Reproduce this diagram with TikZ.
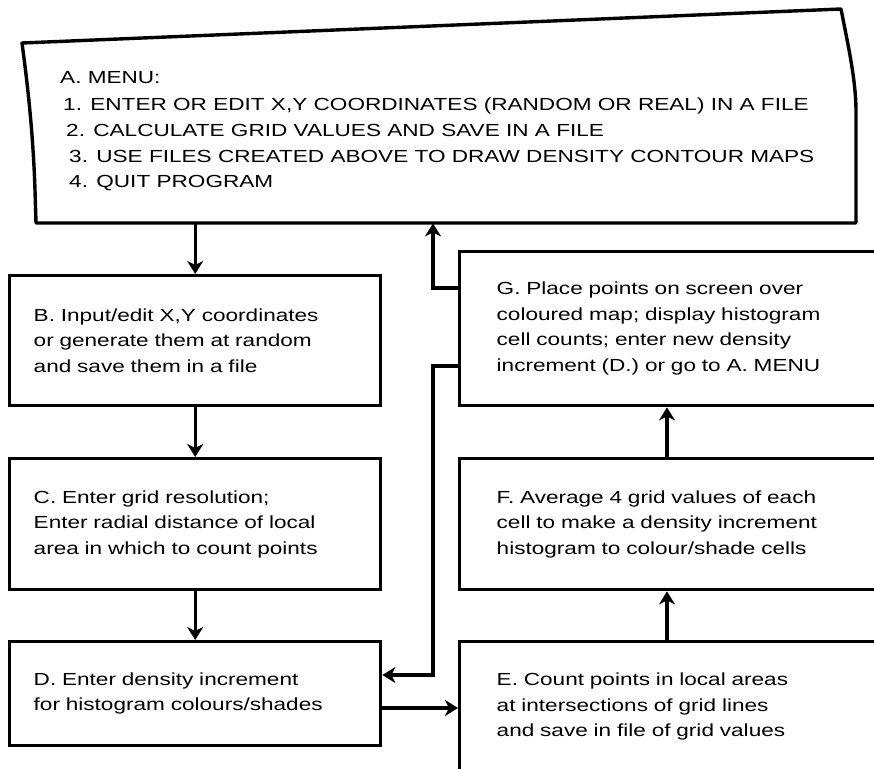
\documentclass[tikz,border=0pt]{standalone}
\usepackage{fontspec}
\setmainfont{Liberation Sans}[FakeStretch=1.29]
\usetikzlibrary{arrows.meta}
\newcommand\bodyfont{\fontsize{17.5pt}{25.5pt}\selectfont}
\tikzset{
  box/.style={draw, line width=3.4pt, inner ysep=0pt, align=left, anchor=north west, font=\bodyfont},
  leftbox/.style={box, minimum width=371pt, inner xsep=24pt, text width=323pt},
  rightbox/.style={box, minimum width=442pt, inner xsep=37pt, text width=368pt},
  menuline/.style={anchor=base west, inner sep=0pt, font=\bodyfont},
  arr/.style={line width=3.2pt, -{Stealth[length=13pt,width=16pt,inset=4pt]}},
}
\begin{document}
\begin{tikzpicture}[x=1pt,y=-1pt]
\useasboundingbox (0,0) rectangle (874,768);
\clip (0,0) rectangle (874,768);

% A. MENU (irregular outline)
\node[draw=none, minimum width=820pt, minimum height=180pt, anchor=north west, inner sep=0pt] (A) at (36,43) {};
\draw[line width=3.4pt, line join=round]
  (22,43) -- (841,9)
  .. controls (848,45) and (856,80) .. (856,112) -- (856,223)
  -- (36,223) -- (35,190)
  .. controls (33,130) and (27,80) .. (22,43) -- cycle;
\node[menuline] (a0) at (60,83)  {A. MENU:};
\node[menuline] (a1) at (63,110) {1. ENTER OR EDIT X,Y COORDINATES (RANDOM OR REAL) IN A FILE};
\node[menuline] (a2) at (66,136) {2. CALCULATE GRID VALUES AND SAVE IN A FILE};
\node[menuline] (a3) at (69,162) {3. USE FILES CREATED ABOVE TO DRAW DENSITY CONTOUR MAPS};
\node[menuline] (a4) at (69,187) {4. QUIT PROGRAM};

% left column
\node[leftbox, minimum height=130pt] (B) at (8,274)
  {B. Input/edit X,Y coordinates\\or generate them at random\\and save them in a file};
\node[leftbox, minimum height=131pt] (C) at (8,457)
  {C. Enter grid resolution;\\Enter radial distance of local\\area in which to count points};
\node[leftbox, minimum height=104pt] (D) at (8,640)
  {D. Enter density increment\\for histogram colours/shades};

% right column
\node[rightbox, minimum height=154pt] (G) at (458,250)
  {G. Place points on screen over\\coloured map; display histogram\\cell counts; enter new density\\increment (D.) or go to A. MENU};
\node[rightbox, minimum height=131pt] (F) at (458,457)
  {F. Average 4 grid values of each\\cell to make a density increment\\histogram to colour/shade cells};
\node[rightbox, minimum height=130pt] (E) at (458,640)
  {E. Count points in local areas\\at intersections of grid lines\\and save in file of grid values};

% junction coordinates
\coordinate (j1) at (433,288);
\coordinate (j2) at (433,366);
\coordinate (j3) at (433,675);
\coordinate (j4) at (400,708);
\coordinate (j5) at (667,0);

% connectors
\draw[arr] (A.south -| B.north) -- (B.north);
\draw[arr] (B.south) -- (C.north);
\draw[arr] (C.south) -- (D.north);
\draw[arr] (D.east |- j4) -- (E.west |- j4);
\draw[arr] (E.north -| j5) -- (F.south -| j5);
\draw[arr] (F.north -| j5) -- (G.south -| j5);
\draw[arr] (G.west |- j1) -- (j1) -- (j1 |- A.south);
\draw[arr] (G.west |- j2) -- (j2) -- (j3) -- (D.east |- j3);
\end{tikzpicture}
\end{document}
